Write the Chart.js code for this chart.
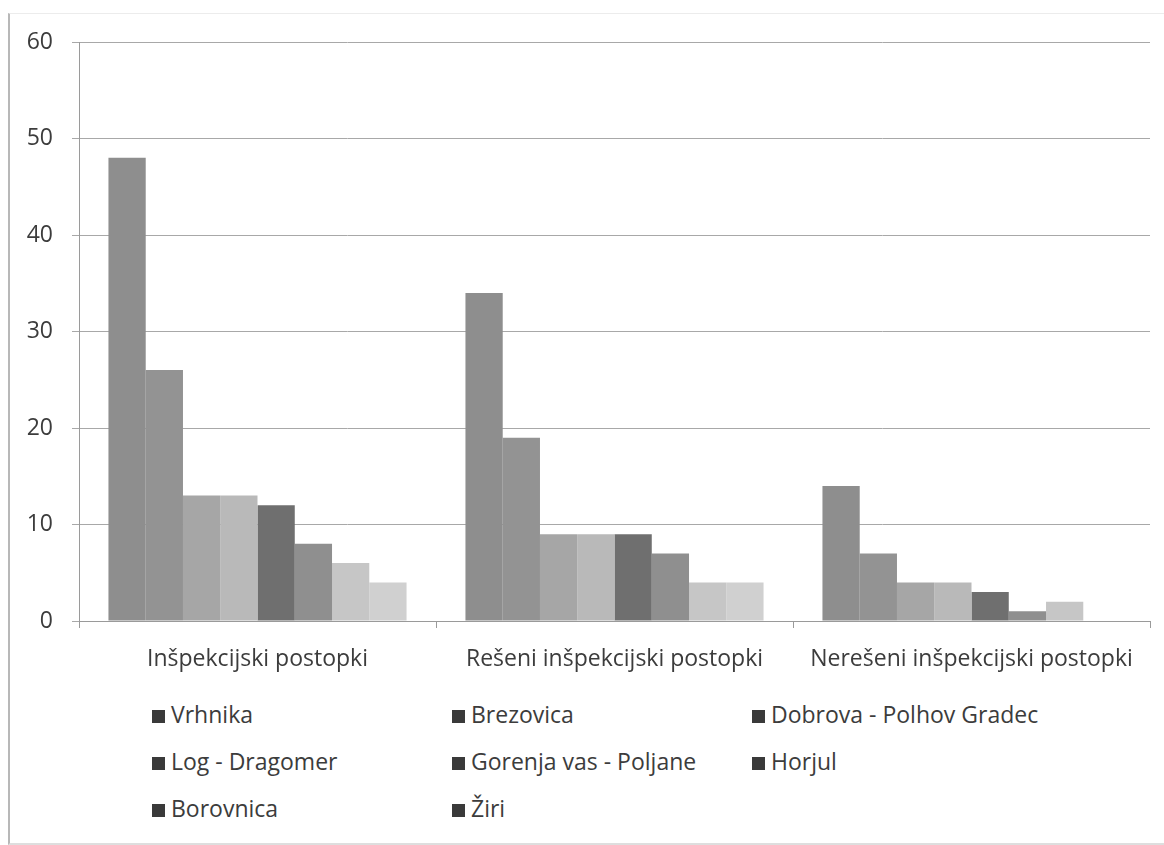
<!DOCTYPE html>
<html>
<head>
<meta charset="utf-8">
<script src="https://cdn.jsdelivr.net/npm/chart.js@4/dist/chart.umd.min.js"></script>
<style>
    body { margin: 0; background: #fff; }
    #frame {
        position: absolute; left: 8px; top: 13px; width: 1160px; height: 829px;
        border-left: 2px solid #b8b8b8; border-top: 1px solid #ececec; border-bottom: 2px solid #dedede;
    }
    #wrap { position: absolute; left: 0; top: 0; width: 1164px; height: 690px; }
    #legend {
        position: absolute; left: 152px; top: 696px; width: 920px;
        display: grid; grid-template-columns: 300px 300px 300px; row-gap: 0;
        font-family: "Open Sans", sans-serif; font-size: 23px; color: #3c3c3c;
    }
    .item { height: 47px; line-height: 36px; white-space: nowrap; }
    .box { display: inline-block; width: 13px; height: 13px; background: #3a3a3a; margin-right: 6px; vertical-align: 0px; }
</style>
</head>
<body>
<div id="frame"></div>
<div id="wrap"><canvas id="ourChart"></canvas></div>
<div id="legend"></div>
<script>
// kategorije in občine
const categories = ['Inšpekcijski postopki', 'Rešeni inšpekcijski postopki', 'Nerešeni inšpekcijski postopki'];
const municipalities = ['Vrhnika', 'Brezovica', 'Dobrova - Polhov Gradec', 'Log - Dragomer',
    'Gorenja vas - Poljane', 'Horjul', 'Borovnica', 'Žiri'];

// vrednosti po občinah (postopki, rešeni, nerešeni)
const vrhnika = [48, 34, 14];
const brezovica = [26, 19, 7];
const dobrova = [13, 9, 4];
const logDragomer = [13, 9, 4];
const gorenjaVas = [12, 9, 3];
const horjul = [8, 7, 1];
const borovnica = [6, 4, 2];
const ziri = [4, 4, 0];

const yTicks = [0, 10, 20, 30, 40, 50, 60];

const seriesValues = [vrhnika, brezovica, dobrova, logDragomer, gorenjaVas, horjul, borovnica, ziri];
const barColors = ['#8e8e8e', '#939393', '#a6a6a6', '#b9b9b9', '#6f6f6f', '#8f8f8f', '#c6c6c6', '#d0d0d0'];

const chartElement = new Chart(document.getElementById('ourChart'), {
    type: 'bar',
    data: {
        labels: categories,
        datasets: municipalities.map((name, i) => ({
            label: name,
            data: seriesValues[i],
            backgroundColor: barColors[i],
            borderWidth: 0,
            categoryPercentage: 0.835,
            barPercentage: 1.0
        }))
    },
    options: {
        responsive: true,
        maintainAspectRatio: false,
        animation: false,
        layout: { padding: { top: 42, right: 14, left: 0, bottom: 0 } },
        plugins: {
            legend: { display: false },
            tooltip: { enabled: false }
        },
        scales: {
            x: {
                grid: { display: true, drawOnChartArea: false, drawTicks: true, tickLength: 7, color: '#9a9a9a', offset: true },
                border: { color: '#9a9a9a', width: 1 },
                ticks: { font: { family: 'Open Sans', size: 23 }, color: '#3c3c3c', padding: 18, maxRotation: 0 },
                afterFit: (s) => { s.height = 69; }
            },
            y: {
                min: 0,
                max: 60,
                afterBuildTicks: (s) => { s.ticks = yTicks.map(v => ({ value: v })); },
                grid: { color: '#a8a8a8', lineWidth: 1, tickLength: 7 },
                border: { color: '#9a9a9a', width: 1 },
                ticks: { font: { family: 'Open Sans', size: 23 }, color: '#3c3c3c', padding: 19 },
                afterFit: (s) => { s.width = 79; }
            }
        }
    }
});

// legenda v treh stolpcih
const legendEl = document.getElementById('legend');
chartElement.data.datasets.forEach((ds) => {
    const item = document.createElement('div');
    item.className = 'item';
    const box = document.createElement('span');
    box.className = 'box';
    item.appendChild(box);
    item.appendChild(document.createTextNode(ds.label));
    legendEl.appendChild(item);
});
</script>
</body>
</html>
